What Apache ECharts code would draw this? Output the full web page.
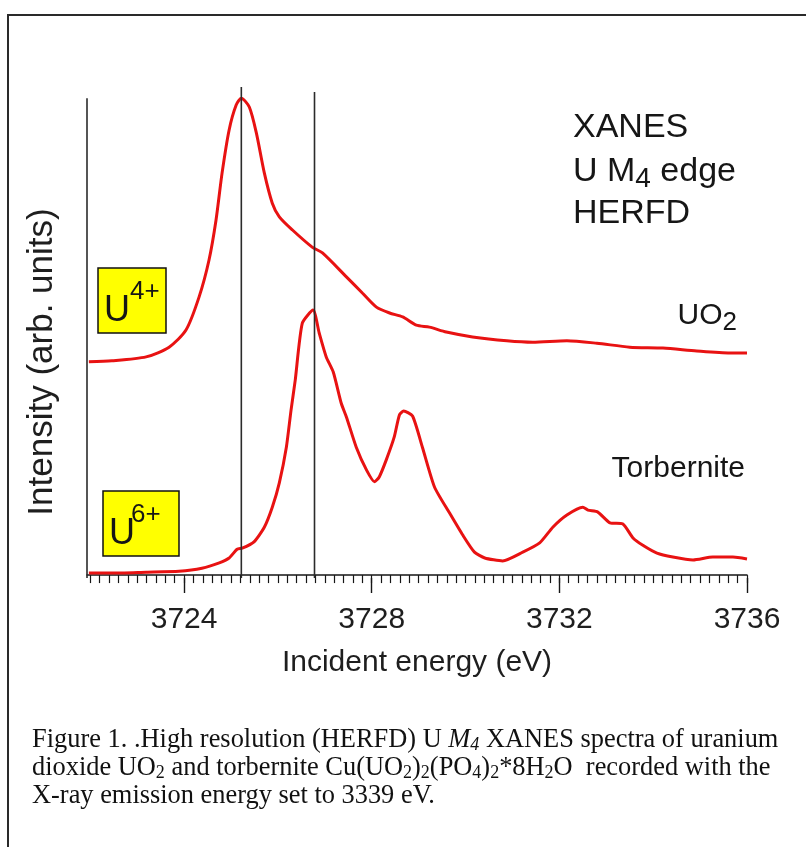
<!DOCTYPE html>
<html>
<head>
<meta charset="utf-8">
<script src="https://cdn.jsdelivr.net/npm/echarts@6/dist/echarts.min.js"></script>
<style>
  html, body { margin: 0; padding: 0; background: #fff; }
  #chart { width: 806px; height: 847px; }
</style>
</head>
<body>
<div id="chart"></div>
<script>
  // x range (eV) and tick labels
  const energyMin = 3721.93;
  const energyMax = 3736;
  const majorTicks = [3724, 3728, 3732, 3736];

  // intensity axis, arbitrary units
  const intensityMin = -0.6;
  const intensityMax = 100;

  // UO2 spectrum
  const uo2Energy = [3721.97, 3722.46, 3723.19, 3723.68, 3724.04, 3724.32, 3724.53, 3724.68, 3724.81, 3724.96,
    3725.11, 3725.22, 3725.39, 3725.54, 3725.71, 3725.88, 3726.03, 3726.31, 3726.73, 3726.95,
    3727.46, 3727.80, 3728.10, 3728.38, 3728.66, 3728.95, 3729.23, 3729.59, 3730.15, 3730.88,
    3731.43, 3732.16, 3732.80, 3733.50, 3734.21, 3734.93, 3735.64, 3736.00];
  const uo2Intensity = [43.7, 43.9, 44.7, 46.7, 50.2, 57.0, 64.5, 72.7, 82.4, 91.2,
    96.3, 97.7, 95.9, 90.6, 82.4, 76.2, 73.4, 70.7, 67.2, 66.0,
    61.1, 57.8, 54.9, 53.7, 52.9, 51.2, 50.8, 49.8, 48.8, 48.0,
    47.7, 48.0, 47.5, 46.7, 46.5, 45.9, 45.5, 45.5];

  // Torbernite spectrum
  const torbEnergy = [3721.97, 3722.46, 3723.19, 3723.89, 3724.38, 3724.75, 3724.96, 3725.13, 3725.24, 3725.49,
    3725.71, 3725.88, 3726.03, 3726.18, 3726.28, 3726.37, 3726.52, 3726.75, 3726.88, 3727.03,
    3727.18, 3727.35, 3727.46, 3727.67, 3727.89, 3728.06, 3728.16, 3728.31, 3728.48, 3728.59,
    3728.68, 3728.87, 3729.08, 3729.34, 3729.66, 3729.94, 3730.19, 3730.41, 3730.79, 3731.22,
    3731.58, 3731.86, 3732.16, 3732.50, 3732.61, 3732.82, 3733.08, 3733.35, 3733.57, 3733.78,
    3734.08, 3734.42, 3734.85, 3735.27, 3735.70, 3736.00];
  const torbIntensity = [0.4, 0.4, 0.6, 0.8, 1.4, 2.5, 3.5, 5.3, 5.5, 6.8,
    9.8, 13.9, 18.9, 26.2, 33.8, 40.0, 51.6, 54.3, 49.6, 44.7,
    41.6, 35.2, 32.4, 26.2, 21.5, 19.1, 20.1, 23.6, 28.3, 32.8,
    33.6, 32.6, 26.2, 18.0, 12.7, 8.2, 4.7, 3.5, 2.9, 4.7,
    6.6, 9.8, 12.3, 13.9, 13.3, 12.9, 10.7, 10.5, 7.6, 6.1,
    4.5, 3.7, 3.1, 3.7, 3.7, 3.3];

  // vertical reference lines: energy and top of line
  const refLineEnergy = [3721.93, 3725.22, 3726.78];
  const refLineTop = [97.7, 100, 99.0];

  const minorTicks = [];
  for (let i = 0; i <= 70; i++) {
    minorTicks.push(+(3722 + i * 0.2).toFixed(1));
  }

  const sans = '"Liberation Sans", Arial, sans-serif';
  const serif = '"Liberation Serif", "Times New Roman", serif';
  const red = "#e81212";
  const ink = "#161616";

  const zip = (xs, ys) => xs.map((x, i) => [x, ys[i]]);

  const chart = echarts.init(document.getElementById("chart"), null, { renderer: "canvas" });

  const refSeries = refLineEnergy.map((e, i) => ({
    name: "ref" + i,
    type: "line",
    data: [[e, intensityMin], [e, refLineTop[i]]],
    symbol: "none",
    silent: true,
    clip: false,
    z: 5,
    lineStyle: { color: "#2b2b2b", width: 1.6 },
  }));

  function txt(x, y, text, size, extra) {
    return {
      type: "text",
      x: x,
      y: y,
      silent: true,
      style: Object.assign({
        text: text,
        font: size + "px " + sans,
        fill: ink,
        align: "left",
        verticalAlign: "middle",
        textAlign: "left",
        textVerticalAlign: "middle",
      }, extra || {}),
    };
  }

  chart.setOption({
    animation: false,
    backgroundColor: "#fff",
    grid: { left: 87, right: 59, top: 87, bottom: 269, outerBoundsMode: "none" },
    xAxis: [
      {
        type: "value",
        min: energyMin,
        max: energyMax,
        position: "bottom",
        axisLine: { show: true, lineStyle: { color: ink, width: 1.5 } },
        axisTick: { show: true, customValues: minorTicks, length: 8, lineStyle: { color: ink, width: 1.2 } },
        axisLabel: {
          customValues: majorTicks,
          formatter: (v) => String(v),
          fontSize: 30, fontFamily: sans, color: "#1e1e1e", margin: 27,
        },
        splitLine: { show: false },
        name: "Incident energy (eV)",
        nameLocation: "middle",
        nameGap: 70,
        nameTextStyle: { fontSize: 30, fontFamily: sans, color: "#1e1e1e" },
      },
      {
        type: "value",
        min: energyMin,
        max: energyMax,
        position: "top",
        offset: -491,
        axisLine: { show: false },
        axisTick: { show: true, inside: true, customValues: majorTicks, length: 15, lineStyle: { color: ink, width: 1.4 } },
        axisLabel: { show: false },
        splitLine: { show: false },
      },
    ],
    yAxis: {
      type: "value",
      min: intensityMin,
      max: intensityMax,
      axisLine: { show: false },
      axisTick: { show: false },
      axisLabel: { show: false },
      splitLine: { show: false },
    },
    series: [
      {
        name: "UO2",
        type: "line",
        data: zip(uo2Energy, uo2Intensity),
        symbol: "none",
        smooth: 0.25,
        lineStyle: { color: red, width: 3 },
      },
      {
        name: "Torbernite",
        type: "line",
        data: zip(torbEnergy, torbIntensity),
        symbol: "none",
        smooth: 0.2,
        lineStyle: { color: red, width: 3 },
      },
    ].concat(refSeries),
    graphic: [
      { type: "line", silent: true, shape: { x1: 7, y1: 15, x2: 806, y2: 15 }, style: { stroke: "#2a2a2a", lineWidth: 2 } },
      { type: "line", silent: true, shape: { x1: 8, y1: 15, x2: 8, y2: 847 }, style: { stroke: "#2a2a2a", lineWidth: 2 } },

      {
        type: "text", x: 42, y: 362, rotation: Math.PI / 2, silent: true,
        style: { text: "Intensity (arb. units)", font: "35px " + sans, fill: "#1e1e1e",
          align: "center", verticalAlign: "middle", textAlign: "center", textVerticalAlign: "middle" },
      },

      txt(573, 128, "XANES", 34),
      {
        type: "text", x: 573, y: 172, silent: true,
        style: {
          text: "U M{s|4} edge", font: "34px " + sans, fill: ink, lineHeight: 42,
          align: "left", verticalAlign: "middle", textAlign: "left", textVerticalAlign: "middle",
          rich: { s: { fontSize: 28, fontFamily: sans, lineHeight: 27, verticalAlign: "bottom", fill: ink, color: ink } },
        },
      },
      txt(573, 214, "HERFD", 34),

      {
        type: "text", x: 737, y: 316, silent: true,
        style: {
          text: "UO{s|2}", font: "30px " + sans, fill: ink, lineHeight: 40,
          align: "right", verticalAlign: "middle", textAlign: "right", textVerticalAlign: "middle",
          rich: { s: { fontSize: 26, fontFamily: sans, lineHeight: 24, verticalAlign: "bottom", fill: ink, color: ink } },
        },
      },
      txt(745, 469, "Torbernite", 30, { align: "right", textAlign: "right" }),

      { type: "rect", silent: true, shape: { x: 98, y: 268, width: 68, height: 65 }, style: { fill: "#ffff00", stroke: "#111", lineWidth: 1.5 } },
      txt(104, 311, "U", 36),
      txt(130, 292, "4+", 26),
      { type: "rect", silent: true, shape: { x: 103, y: 491, width: 76, height: 65 }, style: { fill: "#ffff00", stroke: "#111", lineWidth: 1.5 } },
      txt(109, 534, "U", 36),
      txt(131, 515, "6+", 26),

      {
        type: "text", x: 32, y: 726, silent: true,
        style: {
          text: "Figure 1. .High resolution (HERFD) U {i|M}{is|4} XANES spectra of uranium\n" +
            "dioxide UO{s|2} and torbernite Cu(UO{s|2}){s|2}(PO{s|4}){s|2}*8H{s|2}O  recorded with the\n" +
            "X-ray emission energy set to 3339 eV.",
          font: "26.4px " + serif, fill: "#111", lineHeight: 28,
          align: "left", verticalAlign: "top", textAlign: "left", textVerticalAlign: "top",
          rich: {
            i: { fontStyle: "italic", fontSize: 26.4, fontFamily: serif, lineHeight: 28 },
            is: { fontStyle: "italic", fontSize: 18, fontFamily: serif, lineHeight: 18, verticalAlign: "bottom" },
            s: { fontSize: 18, fontFamily: serif, lineHeight: 18, verticalAlign: "bottom" },
          },
        },
      },
    ],
  });
</script>
</body>
</html>
